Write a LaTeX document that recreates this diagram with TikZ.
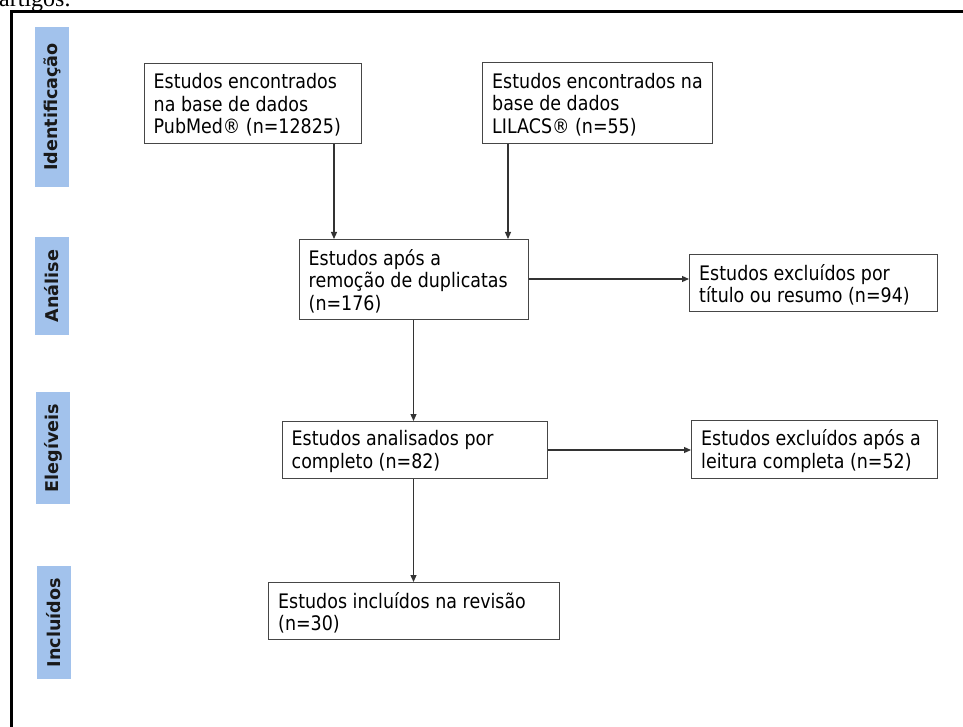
\documentclass[tikz,border=0pt]{standalone}
\usepackage{fontspec}
\setmainfont{DejaVu Sans}
\newfontfamily\boxfont{DejaVu Sans}[FakeStretch=0.873]
\newfontfamily\serifA{Liberation Serif}
\usetikzlibrary{arrows.meta}
\definecolor{lblue}{RGB}{162,194,236}
\definecolor{boxline}{RGB}{70,70,70}
\begin{document}
\begin{tikzpicture}[x=1pt,y=-1pt,
  flow/.style={draw=boxline, line width=1.4pt, inner sep=0pt, anchor=north west},
  txt/.style={align=left, inner sep=0pt, anchor=west, font=\boxfont\fontsize{20}{22.5}\selectfont},
  phase/.style={fill=lblue, rotate=90, minimum height=34pt, inner sep=0pt,
    font=\bfseries\fontsize{17.6}{20}\selectfont, text=black!90},
  arr/.style={draw=black!80, line width=1.2pt, -{Triangle[length=7pt,width=6pt]}}]
\useasboundingbox (0,0) rectangle (963,727);
\begin{scope}
\clip (0,0) rectangle (963,727);
\node[anchor=base west, inner sep=0pt, font=\serifA\fontsize{24}{24}\selectfont] (cap) at (-1,7) {artigos.};
\draw[line width=3pt] (11.5,11.5) rectangle (975,740);
\end{scope}

\node[phase, minimum width=160pt] (p1) at (52,107) {Identificação};
\node[phase, minimum width=98pt] (p2) at (51.5,286) {Análise};
\node[phase, minimum width=112pt] (p3) at (53,448) {Elegíveis};
\node[phase, minimum width=113pt] (p4) at (54,622.5) {Incluídos};

\node[flow, minimum width=217pt, minimum height=80pt] (pub) at (144,63) {};
\node[txt] (pubt) at ([shift={(9.5pt,-1.5pt)}]pub.west) {Estudos encontrados\\na base de dados\\PubMed® (n=12825)};
\node[flow, minimum width=230pt, minimum height=81pt] (lil) at (482,62) {};
\node[txt] (lilt) at ([shift={(10pt,-1.5pt)}]lil.west) {Estudos encontrados na\\base de dados\\LILACS® (n=55)};
\node[flow, minimum width=229pt, minimum height=80pt] (dup) at (299,239) {};
\node[txt] (dupt) at ([shift={(9.5pt,-1.5pt)}]dup.west) {Estudos após a\\remoção de duplicatas\\(n=176)};
\node[flow, minimum width=248pt, minimum height=57pt] (ex1) at (689,254) {};
\node[txt] (ex1t) at ([shift={(10pt,-1.5pt)}]ex1.west) {Estudos excluídos por\\título ou resumo (n=94)};
\node[flow, minimum width=265pt, minimum height=57pt] (ana) at (282,421) {};
\node[txt] (anat) at ([shift={(9.5pt,-1.5pt)}]ana.west) {Estudos analisados por\\completo (n=82)};
\node[flow, minimum width=246pt, minimum height=58pt] (ex2) at (691,420) {};
\node[txt] (ex2t) at ([shift={(10pt,-1.5pt)}]ex2.west) {Estudos excluídos após a\\leitura completa (n=52)};
\node[flow, minimum width=291pt, minimum height=57pt] (inc) at (268,582) {};
\node[txt] (inct) at ([shift={(10pt,-1.5pt)}]inc.west) {Estudos incluídos na revisão\\(n=30)};

\coordinate (c1) at (334,0);
\coordinate (c2) at (508,0);
\coordinate (c3) at (413.5,0);
\coordinate (r1) at (0,279);
\coordinate (r2) at (0,450);

\draw[arr] (pub.south -| c1) -- (dup.north -| c1);
\draw[arr] (lil.south -| c2) -- (dup.north -| c2);
\draw[arr] (dup.east |- r1) -- (ex1.west |- r1);
\draw[arr] (dup.south -| c3) -- (ana.north -| c3);
\draw[arr] (ana.east |- r2) -- (ex2.west |- r2);
\draw[arr] (ana.south -| c3) -- (inc.north -| c3);
\end{tikzpicture}
\end{document}
